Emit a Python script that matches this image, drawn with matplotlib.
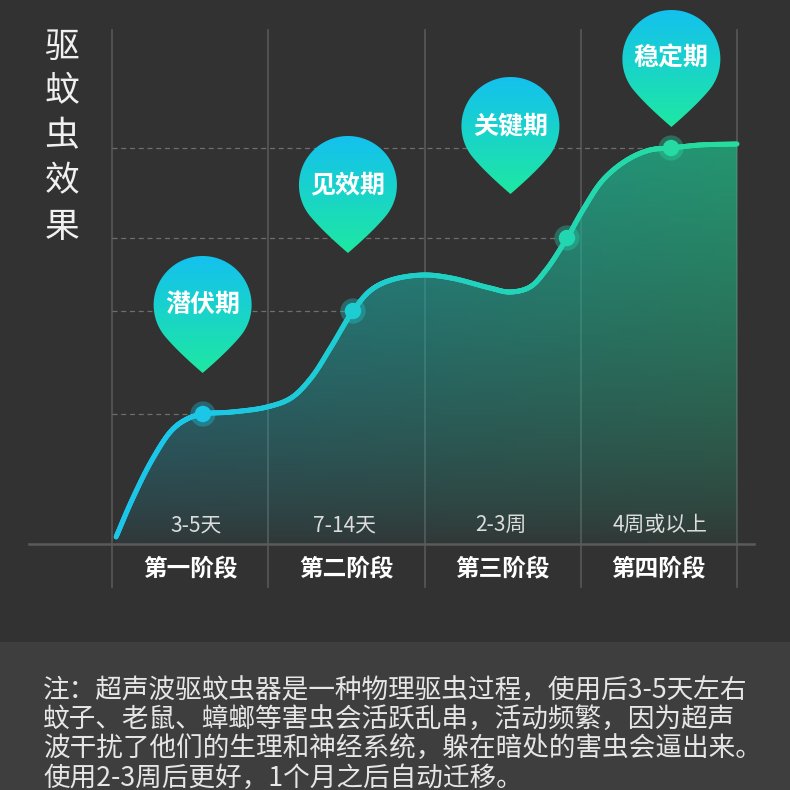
import numpy as np
import matplotlib.pyplot as plt
from matplotlib.path import Path
from matplotlib.patches import PathPatch, Rectangle
from matplotlib.collections import LineCollection

plt.rcParams['font.family'] = ['Noto Sans CJK SC', 'DejaVu Sans']

# 数据：x 为阶段坐标（0-4），y 为驱虫效果（0-100）
curve_x = [0.026, 0.128, 0.256, 0.384, 0.48, 0.582, 0.768, 0.992, 1.146, 1.274, 1.402,
           1.542, 1.658, 1.786, 1.99, 2.17, 2.419, 2.547, 2.675, 2.778, 2.912, 3.014,
           3.142, 3.296, 3.443, 3.578, 3.763, 4.0]
curve_y = [1.75, 11.0, 21.0, 28.5, 31.25, 32.5, 33.0, 34.25, 36.5, 41.5, 49.25,
           58.25, 63.5, 66.0, 67.25, 66.5, 64.0, 63.0, 64.25, 68.5, 76.5, 83.5,
           91.0, 96.0, 98.5, 99.0, 99.75, 100.0]

marker_x = [0.582, 1.542, 2.912, 3.578]
marker_y = [32.5, 58.25, 76.5, 99.0]

bubble_labels = ['潜伏期', '见效期', '关键期', '稳定期']
bubble_tip_x = [0.58, 1.51, 2.55, 3.58]
bubble_tip_y = [42.75, 72.75, 87.5, 104.25]

stages = ['第一阶段', '第二阶段', '第三阶段', '第四阶段']
stage_x = [0.5, 1.5, 2.5, 3.5]
durations = ['3-5天', '7-14天', '2-3周', '4周或以上']
duration_x = [0.54, 1.49, 2.49, 3.51]

y_title = '驱蚊虫效果'
note_lines = [
    '注：超声波驱蚊虫器是一种物理驱虫过程，使用后3-5天左右',
    '蚊子、老鼠、蟑螂等害虫会活跃乱串，活动频繁，因为超声',
    '波干扰了他们的生理和神经系统，躲在暗处的害虫会逼出来。',
    '使用2-3周后更好，1个月之后自动迁移。',
]

# 像素与数据坐标的换算（画布 790x790）
PX_X = 156.25   # 每个阶段的像素宽度
PX_Y = 4.0      # 每单位效果的像素高度
X0, Y0 = 112, 544

BG = '#323232'
PANEL = '#3e3e3e'
CYAN = np.array([27, 198, 232]) / 255
GREEN = np.array([38, 220, 158]) / 255


def line_color(x):
    t = np.clip((x - 0.5) / 3.3, 0, 1)
    return CYAN * (1 - t) + GREEN * t


def smooth(xs, ys, n=30):
    # 向心 Catmull-Rom，在像素空间里平滑
    P = np.column_stack([np.array(xs) * PX_X, np.array(ys) * PX_Y])
    P = np.vstack([2 * P[0] - P[1], P, 2 * P[-1] - P[-2]])
    out = []
    for i in range(1, len(P) - 2):
        p0, p1, p2, p3 = P[i - 1], P[i], P[i + 1], P[i + 2]
        t0 = 0.0
        t1 = t0 + np.linalg.norm(p1 - p0) ** 0.5
        t2 = t1 + np.linalg.norm(p2 - p1) ** 0.5
        t3 = t2 + np.linalg.norm(p3 - p2) ** 0.5
        t = np.linspace(t1, t2, n, endpoint=False)[:, None]
        a1 = (t1 - t) / (t1 - t0) * p0 + (t - t0) / (t1 - t0) * p1
        a2 = (t2 - t) / (t2 - t1) * p1 + (t - t1) / (t2 - t1) * p2
        a3 = (t3 - t) / (t3 - t2) * p2 + (t - t2) / (t3 - t2) * p3
        b1 = (t2 - t) / (t2 - t0) * a1 + (t - t0) / (t2 - t0) * a2
        b2 = (t3 - t) / (t3 - t1) * a2 + (t - t1) / (t3 - t1) * a3
        out.append((t2 - t) / (t2 - t1) * b1 + (t - t1) / (t2 - t1) * b2)
    out.append(P[-2][None, :])
    res = np.vstack(out)
    return np.column_stack([res[:, 0] / PX_X, res[:, 1] / PX_Y])


def pin_path(tx, ty, r=49, d=68):
    # 水滴形气泡，像素偏移，y 向上
    th = np.radians(np.linspace(-40, 220, 120))
    arc = np.column_stack([r * np.cos(th), d + r * np.sin(th)])
    pl = arc[-1]
    cl = pl + 20 * np.array([0.643, -0.766])
    pr = arc[0]
    cr = pr + 20 * np.array([-0.643, -0.766])
    s = np.linspace(0, 1, 20)[:, None]
    left = (1 - s) ** 2 * pl + 2 * (1 - s) * s * cl
    right = 2 * (1 - s) * s * cr + s ** 2 * pr
    pts = np.vstack([arc, left[1:], right[1:]])
    pts[:, 0] = tx + pts[:, 0] / PX_X
    pts[:, 1] = ty + pts[:, 1] / PX_Y
    return Path(np.vstack([pts, pts[:1]]), closed=True)


fig = plt.figure(figsize=(7.9, 7.9), dpi=100)
fig.patch.set_facecolor(BG)
ax = fig.add_axes([0, 0, 1, 1])
ax.set_xlim(-X0 / PX_X, (790 - X0) / PX_X)
ax.set_ylim((Y0 - 790) / PX_Y, Y0 / PX_Y)
ax.axis('off')
ax.set_facecolor(BG)

# 底部说明面板
ax.add_patch(Rectangle((-X0 / PX_X, (Y0 - 790) / PX_Y), 790 / PX_X, 148 / PX_Y,
                       facecolor=PANEL, edgecolor='none', zorder=0))
for i, line in enumerate(note_lines):
    ax.text(-69 / PX_X, (Y0 - 690 - i * 29.3) / PX_Y, line, fontsize=19.2,
            color='#e6e6e6', ha='left', va='center', zorder=5)

# 竖线和底线
for i in range(5):
    ax.plot([i, i], [(Y0 - 30) / PX_Y, (Y0 - 587) / PX_Y], color='#585858', lw=1.2, zorder=1)
ax.plot([-83 / PX_X, 642 / PX_X], [0, 0], color='#5a5a5a', lw=1.8, zorder=1)

# 虚线
for mx, my in zip(marker_x, marker_y):
    ax.plot([0, mx], [my, my], color='#6e6e6e', lw=0.9, ls=(0, (4, 3)), zorder=1)

# 曲线和渐变填充
pts = smooth(curve_x, curve_y)
poly = np.vstack([pts, [[4.0, 0], [pts[0, 0], 0]]])
fill_patch = PathPatch(Path(poly, closed=False), facecolor='none', edgecolor='none')
ax.add_patch(fill_patch)
gx = np.linspace(0, 1, 200)[None, :, None]
gy = np.linspace(0, 1, 300)[:, None]
col = (CYAN[None, None, :] * (1 - gx) + GREEN[None, None, :] * gx) * 0.85
col = np.broadcast_to(col, (300, 200, 3))
alpha = np.broadcast_to(0.04 + 0.7 * gy ** 0.75, (300, 200))
img = np.dstack([col, alpha])
im = ax.imshow(img, extent=[0, 4, 0, 101], origin='lower', aspect='auto', zorder=2,
               interpolation='bilinear')
im.set_clip_path(fill_patch)

segs = np.stack([pts[:-1], pts[1:]], axis=1)
lc = LineCollection(segs, colors=[line_color(x) for x in pts[:-1, 0]], linewidths=3.6,
                    capstyle='round', zorder=4)
ax.add_collection(lc)

# 标记点
for mx, my in zip(marker_x, marker_y):
    c = line_color(mx)
    ax.scatter(mx, my, s=330, color=c, alpha=0.35, edgecolors='none', zorder=5)
    ax.scatter(mx, my, s=140, color=c, edgecolors='none', zorder=6)

# 气泡
grad = np.linspace(0, 1, 100)[:, None, None]
top = np.array([20, 192, 240]) / 255
bottom = np.array([30, 232, 162]) / 255
bub = np.broadcast_to(bottom * (1 - grad) + top * grad, (100, 10, 3))
for label, tx, ty in zip(bubble_labels, bubble_tip_x, bubble_tip_y):
    path = pin_path(tx, ty)
    patch = PathPatch(path, facecolor='none', edgecolor='none')
    ax.add_patch(patch)
    bi = ax.imshow(bub, extent=[tx - 52 / PX_X, tx + 52 / PX_X, ty, ty + 120 / PX_Y],
                   origin='lower', aspect='auto', zorder=7, interpolation='bilinear')
    bi.set_clip_path(patch)
    ax.text(tx, ty + 68 / PX_Y, label, fontsize=18, fontweight='bold', color='white',
            ha='center', va='center', zorder=8)

# 阶段与时长
for s, x in zip(stages, stage_x):
    ax.text(x, -6.1, s, fontsize=17, fontweight='bold', color='white',
            ha='center', va='center', zorder=5)
for d, x in zip(durations, duration_x):
    ax.text(x, 4.75, d, fontsize=15, color='#dcdcdc', ha='center', va='center', zorder=5)

# 纵向标题
for i, ch in enumerate(y_title):
    ax.text(-50 / PX_X, (Y0 - 47 - i * 45) / PX_Y, ch, fontsize=25, color='#f0f0f0',
            ha='center', va='center', zorder=5)

fig.savefig('out.png', dpi=100, facecolor=BG)
